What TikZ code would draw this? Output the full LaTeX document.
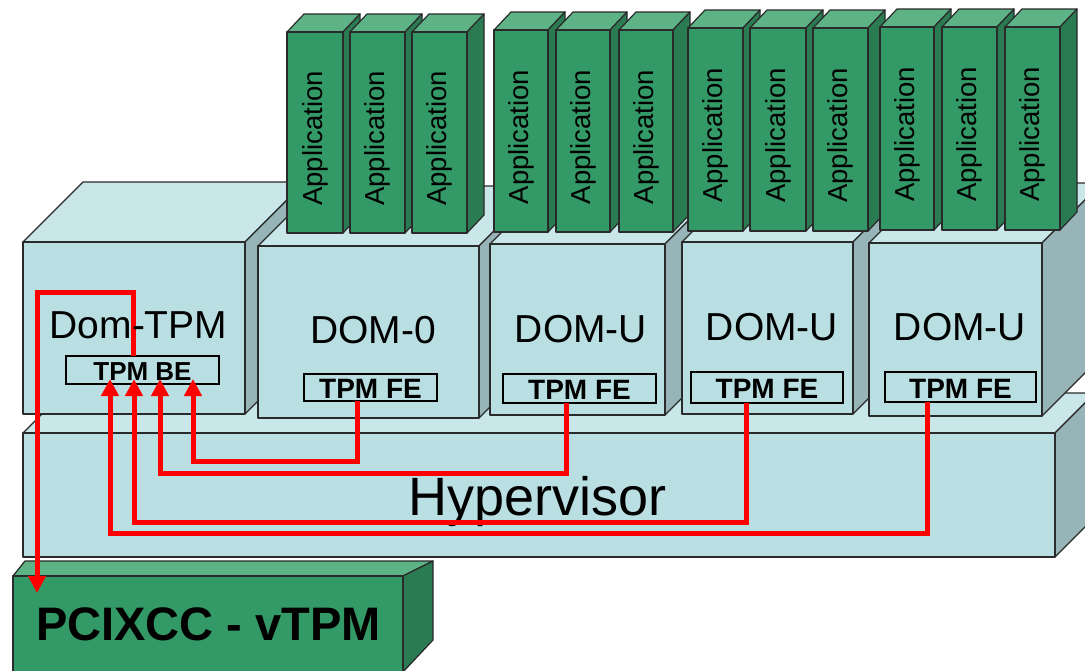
\documentclass[tikz,border=0pt]{standalone}
\usepackage{fontspec}
\setmainfont{Liberation Sans}
\usetikzlibrary{arrows.meta,calc}
\definecolor{bfront}{HTML}{B9DFE2}
\definecolor{btop}{HTML}{C9E6E9}
\definecolor{bside}{HTML}{97B5B8}
\definecolor{gfront}{HTML}{339966}
\definecolor{gtop}{HTML}{5DB386}
\definecolor{gside}{HTML}{2A7A52}
\definecolor{edge}{HTML}{2A2A2A}
\tikzset{
  face/.style={draw=edge, line width=1.2pt, line join=round},
  bluefront/.style={face, fill=bfront},
  bluetop/.style={face, fill=btop},
  blueside/.style={face, fill=bside},
  greenfront/.style={face, fill=gfront},
  greentop/.style={face, fill=gtop},
  greenside/.style={face, fill=gside},
  frontnode/.style={anchor=north west, inner sep=0pt, outer sep=0pt},
  domlabel/.style={font=\fontsize{39}{44}\selectfont, anchor=base, inner sep=0pt},
  apptext/.style={font=\fontsize{27.5}{30}\selectfont, rotate=90, inner sep=0pt},
  tpmbox/.style={draw=black, line width=1.3pt, inner sep=0pt, outer sep=0pt, text depth=0pt},
  fetext/.style={font=\bfseries\fontsize{28}{30}\selectfont, text height=22.5pt},
  betext/.style={font=\bfseries\fontsize{26}{28}\selectfont, text height=21.5pt},
  redline/.style={draw=red, line width=5pt, line join=miter, -{Triangle[length=17pt,width=17pt]}}
}
% #1 name, #2 x1, #3 y1, #4 x2, #5 y2, #6 dx, #7 dy, #8 colour family
\newcommand\cuboid[8]{%
  \filldraw[#8top] (#2,#3) -- ({#2+#6},{#3-#7}) -- ({#4+#6},{#3-#7}) -- (#4,#3) -- cycle;
  \filldraw[#8side] (#4,#3) -- ({#4+#6},{#3-#7}) -- ({#4+#6},{#5-#7}) -- (#4,#5) -- cycle;
  \node[#8front, frontnode, minimum width={#4-#2}, minimum height={#5-#3}] (#1) at (#2,#3) {};
}
\begin{document}
\begin{tikzpicture}[x=1pt,y=-1pt]
\useasboundingbox (0,0) rectangle (1085,670);
\fill[white] (0,0) rectangle (1085,670);
\clip (0,0) rectangle (1085,670);

% PCIXCC card
\filldraw[greentop] (13,576) -- (25,561) -- (433,561) -- (403,576) -- cycle;
\filldraw[greenside] (403,576) -- (433,561) -- (433,640) -- (403,672) -- cycle;
\node[greenfront, frontnode, minimum width=390, minimum height=96] (pci) at (13,576) {};

% Hypervisor
\cuboid{hyp}{23}{433}{1055}{557}{40}{40}{blue}

% Domains
\cuboid{domtpm}{23}{242}{245}{414}{60}{60}{blue}
\cuboid{dom0}{258}{246}{479}{418}{60}{60}{blue}
\cuboid{domu1}{490}{244}{665}{415}{60}{60}{blue}
\cuboid{domu2}{682}{242}{853}{414}{60}{60}{blue}
\cuboid{domu3}{869}{243}{1042}{416}{60}{60}{blue}

% Applications
\cuboid{a01}{287}{32}{343}{233}{17}{18}{green}
\cuboid{a02}{350}{32}{405}{233}{17}{18}{green}
\cuboid{a03}{412}{32}{467}{233}{17}{18}{green}
\cuboid{a11}{494}{30}{548}{232}{17}{18}{green}
\cuboid{a12}{556}{30}{610}{232}{17}{18}{green}
\cuboid{a13}{619}{30}{673}{232}{17}{18}{green}
\cuboid{a21}{688}{28}{743}{231}{17}{18}{green}
\cuboid{a22}{750}{28}{806}{231}{17}{18}{green}
\cuboid{a23}{813}{28}{868}{231}{17}{18}{green}
\cuboid{a31}{880}{27}{934}{230}{17}{18}{green}
\cuboid{a32}{942}{27}{997}{230}{17}{18}{green}
\cuboid{a33}{1005}{27}{1060}{230}{17}{18}{green}

\foreach \n/\x/\y in {01/315/138.5,02/377.5/138.5,03/439.5/138.5,
  11/521/137,12/583/137,13/646/137,
  21/715.5/135.5,22/778/135.5,23/840.5/135.5,
  31/907/134.5,32/969.5/134.5,33/1032.5/134.5}
  \node[apptext] (t\n) at (\x,\y) {Application};

% Labels
\node[domlabel] (ldom0) at (373,343) {DOM-0};
\node[domlabel] (ldomu1) at (581,342) {DOM-U};
\node[domlabel] (ldomu2) at (772,340) {DOM-U};
\node[domlabel] (ldomu3) at (960,340) {DOM-U};
\node[font=\fontsize{54}{60}\selectfont, anchor=base west, inner sep=0pt] (lhyp) at (408,515) {Hypervisor};
\node[font=\bfseries\fontsize{47}{52}\selectfont, anchor=base west, inner sep=0pt] (lpci) at (36,640) {PCIXCC - vTPM};

% TPM boxes
\node[tpmbox, betext, minimum width=153, minimum height=28] (be) at (142.5,370) {TPM BE};
\node[tpmbox, fetext, minimum width=133, minimum height=27] (fe0) at (370.5,387.5) {TPM FE};
\node[tpmbox, fetext, minimum width=153, minimum height=29] (fe1) at (579.5,388.5) {TPM FE};
\node[tpmbox, fetext, minimum width=152, minimum height=31] (fe2) at (767,387.5) {TPM FE};
\node[tpmbox, fetext, minimum width=151, minimum height=30] (fe3) at (960.5,387) {TPM FE};

% Connectors
\draw[redline] (be.north -| 133,0) -- (133,292) -- (37,292) -- ($(pci.north -| 37,0)+(0,17)$);
\draw[redline] (fe0.south -| 357,0) |- (193,461) -- ($(be.south -| 193,0)+(0,-5)$);
\draw[redline] (fe1.south -| 566,0) |- (160,473) -- ($(be.south -| 160,0)+(0,-5)$);
\draw[redline] (fe2.south -| 746,0) |- (134,522) -- ($(be.south -| 134,0)+(0,-5)$);
\draw[redline] (fe3.south -| 927,0) |- (110,533) -- ($(be.south -| 110,0)+(0,-5)$);

\node[domlabel] (ldomtpm) at (138.5,338) {Dom-TPM};
\end{tikzpicture}
\end{document}
